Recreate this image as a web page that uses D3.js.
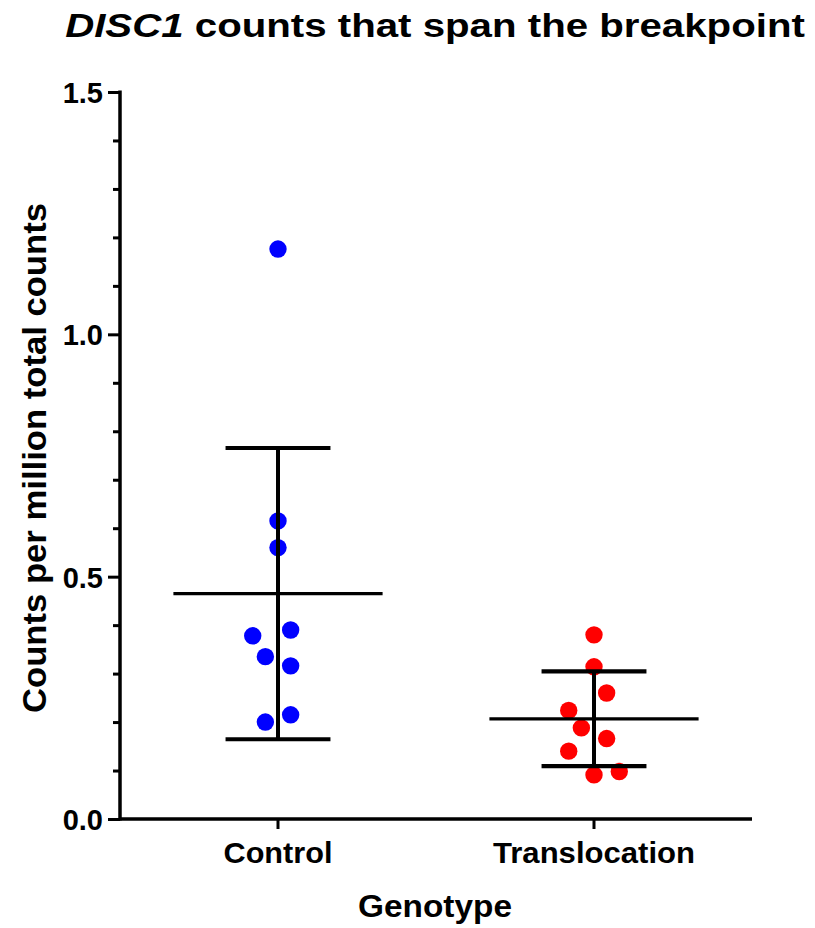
<!DOCTYPE html>
<html>
<head>
<meta charset="utf-8">
<script src="https://cdn.jsdelivr.net/npm/d3@7"></script>
<style>
    body { margin: 0; background: #fff; }
    svg { display: block; font-family: "Liberation Sans", Arial, sans-serif; }
</style>
</head>
<body>
<svg width="815" height="928"></svg>
<script>
// values
var groups = ["Control", "Translocation"];
var controlValues = [1.176, 0.615, 0.560, 0.390, 0.378, 0.335, 0.316, 0.215, 0.200];
var controlSlots = [0, 0, 0, 1, -2, -1, 1, 1, -1];
var translocationValues = [0.380, 0.314, 0.260, 0.224, 0.188, 0.166, 0.140, 0.098, 0.091];
var translocationSlots = [0, 0, 1, -2, -1, 1, -2, 2, 0];
var groupColors = ["#0000ff", "#ff0000"];
var yTicks = [0, 0.1, 0.2, 0.3, 0.4, 0.5, 0.6, 0.7, 0.8, 0.9, 1.0, 1.1, 1.2, 1.3, 1.4, 1.5];
var yLabelTicks = [0, 0.5, 1.0, 1.5];

var series = [
    { name: groups[0], values: controlValues, slots: controlSlots, color: groupColors[0] },
    { name: groups[1], values: translocationValues, slots: translocationSlots, color: groupColors[1] }
];

var svg = d3.select("svg"),
    plotLeft = 120, plotRight = 752, plotTop = 92, plotBottom = 819;

var x = d3.scaleBand().domain(groups).range([plotLeft, plotRight]);
var y = d3.scaleLinear().domain([0, 1.5]).range([plotBottom, plotTop]);
var slotStep = x.bandwidth() * 0.04;

function isMajor(d) {
    return yLabelTicks.some(function (t) { return Math.abs(t - d) < 1e-6; });
}

// stretch a text horizontally so it spans the given width
function fitWidth(text, width) {
    var w = text.node().getComputedTextLength();
    var cx = +text.attr("x"), cy = +text.attr("y");
    text.attr("transform", "translate(" + cx + "," + cy + ") scale(" + (width / w) + ",1) translate(" + (-cx) + "," + (-cy) + ")");
}

// y axis
var yAxis = svg.append("g")
    .attr("transform", "translate(" + plotLeft + ",0)")
    .call(d3.axisLeft(y)
        .tickValues(yTicks)
        .tickSizeOuter(0)
        .tickSize(12)
        .tickPadding(5)
        .tickFormat(function (d) { return isMajor(d) ? d3.format(".1f")(d) : ""; }));

yAxis.select(".domain").attr("stroke-width", 3.5).attr("d", "M0," + (plotTop - 1.5) + "V" + (plotBottom + 1.5));
yAxis.selectAll(".tick line")
    .attr("stroke-width", 3)
    .attr("x2", function (d) { return isMajor(d) ? -12 : -7; });
yAxis.selectAll(".tick text")
    .attr("font-size", 29)
    .attr("font-weight", "bold")
    .attr("font-family", "'Liberation Sans', Arial, sans-serif")
    .attr("fill", "#000")
    .attr("dy", "0.36em");

// x axis
var xAxis = svg.append("g")
    .attr("transform", "translate(0," + plotBottom + ")")
    .call(d3.axisBottom(x).tickSizeOuter(0).tickSize(10));

xAxis.select(".domain").attr("stroke-width", 3.5).attr("d", "M" + plotLeft + ",0H" + plotRight);
xAxis.selectAll(".tick line").attr("stroke-width", 3);
xAxis.selectAll(".tick text").remove();

var xWidths = [109, 202];
groups.forEach(function (g, i) {
    var t = svg.append("text")
        .attr("x", x(g) + x.bandwidth() / 2)
        .attr("y", 863)
        .attr("text-anchor", "middle")
        .attr("font-size", 29)
        .attr("font-weight", "bold")
        .text(g);
    fitWidth(t, xWidths[i]);
});

// points
series.forEach(function (s) {
    var cx = x(s.name) + x.bandwidth() / 2;
    svg.append("g").selectAll("circle")
        .data(s.values)
        .join("circle")
        .attr("cx", function (d, i) { return cx + s.slots[i] * slotStep; })
        .attr("cy", function (d) { return y(d); })
        .attr("r", 8.7)
        .attr("fill", s.color);
});

// mean and SD bars
series.forEach(function (s) {
    var cx = x(s.name) + x.bandwidth() / 2,
        m = d3.mean(s.values),
        sd = d3.deviation(s.values),
        meanHalf = x.bandwidth() * 0.331,
        capHalf = x.bandwidth() * 0.166;
    var g = svg.append("g").attr("stroke", "#000");

    g.append("line")
        .attr("x1", cx).attr("x2", cx)
        .attr("y1", y(m - sd)).attr("y2", y(m + sd))
        .attr("stroke-width", 4);
    [m - sd, m + sd].forEach(function (v) {
        g.append("line")
            .attr("x1", cx - capHalf).attr("x2", cx + capHalf)
            .attr("y1", y(v)).attr("y2", y(v))
            .attr("stroke-width", 4.2);
    });
    g.append("line")
        .attr("x1", cx - meanHalf).attr("x2", cx + meanHalf)
        .attr("y1", y(m)).attr("y2", y(m))
        .attr("stroke-width", 3.2);
});

// title
var title = svg.append("text")
    .attr("x", 435)
    .attr("y", 37)
    .attr("text-anchor", "middle")
    .attr("font-size", 34)
    .attr("font-weight", "bold");
title.append("tspan").attr("font-style", "italic").text("DISC1");
title.append("tspan").text(" counts that span the breakpoint");
fitWidth(title, 740);

// axis titles
var xTitle = svg.append("text")
    .attr("x", 435)
    .attr("y", 917)
    .attr("text-anchor", "middle")
    .attr("font-size", 31)
    .attr("font-weight", "bold")
    .text("Genotype");
fitWidth(xTitle, 154);

svg.append("text")
    .attr("transform", "translate(46,458) rotate(-90)")
    .attr("text-anchor", "middle")
    .attr("font-size", 34)
    .attr("font-weight", "bold")
    .attr("textLength", 510)
    .attr("lengthAdjust", "spacingAndGlyphs")
    .text("Counts per million total counts");
</script>
</body>
</html>
